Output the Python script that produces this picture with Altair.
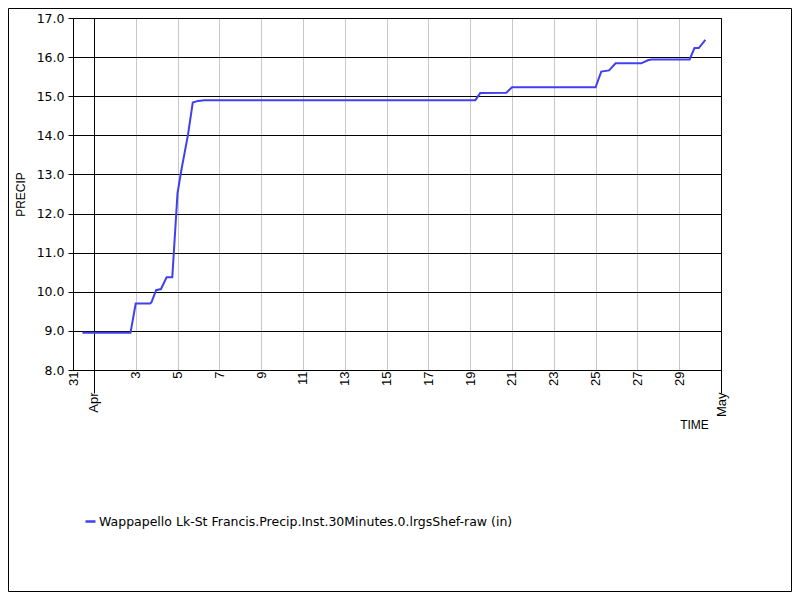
import altair as alt
import pandas as pd

series_name = "Wappapello Lk-St Francis.Precip.Inst.30Minutes.0.lrgsShef-raw (in)"

times = [
    "2023-03-31T10:45", "2023-04-02T18:00", "2023-04-03T00:00", "2023-04-03T16:30",
    "2023-04-03T18:00", "2023-04-03T23:30", "2023-04-04T05:00", "2023-04-04T11:30",
    "2023-04-04T18:00", "2023-04-05T00:00", "2023-04-05T04:30", "2023-04-05T12:00",
    "2023-04-05T17:30", "2023-04-05T23:30", "2023-04-06T07:00", "2023-04-19T06:00",
    "2023-04-19T11:30", "2023-04-20T17:30", "2023-04-21T00:00", "2023-04-25T00:00",
    "2023-04-25T06:30", "2023-04-25T15:30", "2023-04-25T23:00", "2023-04-27T04:30",
    "2023-04-27T12:00", "2023-04-27T16:00", "2023-04-29T12:00", "2023-04-29T17:30",
    "2023-04-29T22:30", "2023-04-30T06:00",
]
precip = [
    8.95, 8.95, 9.70, 9.70,
    9.73, 10.04, 10.07, 10.37,
    10.37, 12.52, 13.12, 14.01,
    14.84, 14.88, 14.90, 14.90,
    15.08, 15.09, 15.23, 15.23,
    15.63, 15.66, 15.84, 15.84,
    15.92, 15.94, 15.94, 16.23,
    16.23, 16.44,
]

y_ticks = [8, 9, 10, 11, 12, 13, 14, 15, 16, 17]
x_tick_days = [(3, 31), (4, 1)] + [(4, d) for d in range(3, 30, 2)] + [(5, 1)]
x_ticks = [alt.DateTime(year=2023, month=m, date=d) for m, d in x_tick_days]

line_color = "#4040ee"

df = pd.DataFrame({"time": times, "precip": precip, "series": series_name})

month_test = "date(datum.value) == 1"

line = alt.Chart(df).mark_line(strokeWidth=2, interpolate="linear").encode(
    x=alt.X(
        "time:T",
        scale=alt.Scale(domain=[alt.DateTime(year=2023, month=3, date=31),
                                alt.DateTime(year=2023, month=5, date=1)]),
        axis=alt.Axis(
            title="TIME",
            values=x_ticks,
            labelExpr="date(datum.value) == 1 ? timeFormat(datum.value, '%b') : timeFormat(datum.value, '%-d')",
            labelAngle=270,
            labelAlign="right",
            labelBaseline="middle",
            labelFont="Liberation Sans",
            labelFontSize=13,
            labelColor="black",
            labelOverlap=False,
            labelFlush=False,
            labelPadding={"condition": {"test": month_test, "value": -1}, "value": 1},
            tickSize={"condition": {"test": month_test, "value": 23}, "value": 0},
            tickColor="black",
            grid=True,
            gridColor={"condition": {"test": month_test, "value": "black"}, "value": "#c8c8c8"},
            gridOpacity=1,
            domainColor="black",
            titleFont="Liberation Sans",
            titleFontSize=12,
            titleFontWeight="normal",
            titleColor="black",
            titleX=621,
            titleY=54,
            titleAlign="center",
            titleBaseline="middle",
        ),
    ),
    y=alt.Y(
        "precip:Q",
        scale=alt.Scale(domain=[8, 17], nice=False, zero=False),
        axis=alt.Axis(
            title="PRECIP",
            values=y_ticks,
            format=".1f",
            labelFont="DejaVu Sans",
            labelFontSize=12.5,
            labelColor="black",
            labelPadding=4,
            tickSize=5,
            tickColor="black",
            grid=True,
            gridColor="black",
            gridOpacity=1,
            domainColor="black",
            titleFont="Liberation Sans",
            titleFontSize=12,
            titleFontWeight="normal",
            titleColor="black",
            titlePadding=9,
        ),
    ),
    color=alt.Color(
        "series:N",
        scale=alt.Scale(range=[line_color]),
        legend=alt.Legend(
            title=None,
            orient="none",
            legendX=11,
            legendY=497,
            symbolType="stroke",
            symbolSize=100,
            symbolStrokeWidth=2.5,
            labelFont="DejaVu Sans",
            labelFontSize=12.5,
            labelColor="black",
            labelLimit=1000,
            labelOffset=2,
        ),
    ),
)

border = alt.Chart(alt.Data(values=[{}])).mark_rect(
    fillOpacity=0, stroke="black", strokeWidth=1
).encode(
    x=alt.value(-64.5), x2=alt.value(718.5), y=alt.value(-9.5), y2=alt.value(573.5)
)

chart = alt.layer(line, border).properties(
    width=648,
    height=352,
    autosize=alt.AutoSizeParams(type="none"),
    padding={"left": 65, "top": 10, "right": 71, "bottom": 222},
    background="white",
).configure_view(stroke="black", strokeWidth=1)

chart.save("out.html", embed_options={"renderer": "svg", "actions": False})
